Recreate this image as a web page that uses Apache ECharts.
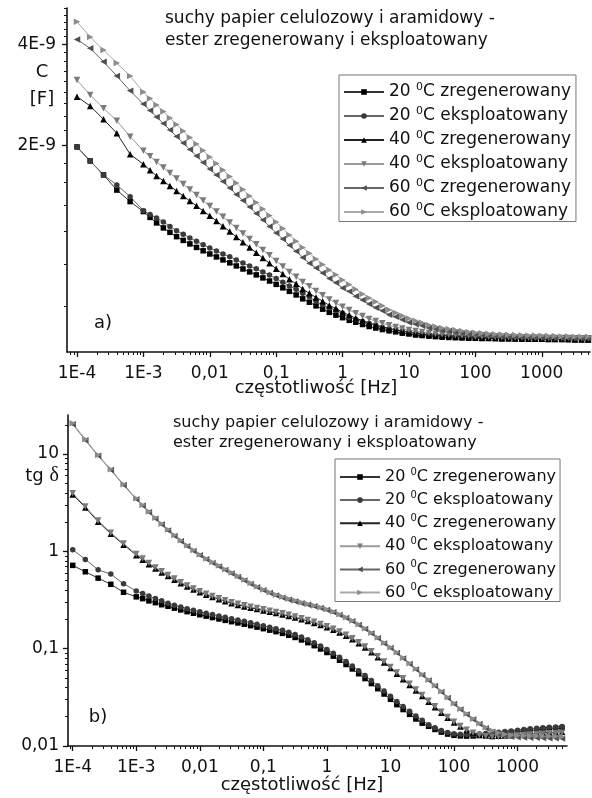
<!DOCTYPE html>
<html><head><meta charset="utf-8">
<script src="https://cdn.jsdelivr.net/npm/echarts@6/dist/echarts.min.js"></script>
<style>html,body{margin:0;padding:0;background:#fff}#c{width:592px;height:798px}</style>
</head><body><div id="c"></div>
<script>
// ---------------- DATA ----------------
const freqHz = [1e-4,1.58e-4,2.51e-4,3.98e-4,6.31e-4,
0.001,0.00126,0.00158,0.002,0.00251,0.00316,0.00398,0.00501,0.00631,0.00794,
0.01,0.0126,0.0158,0.02,0.0251,0.0316,0.0398,0.0501,0.0631,0.0794,
0.1,0.126,0.158,0.2,0.251,0.316,0.398,0.501,0.631,0.794,
1,1.26,1.58,2,2.51,3.16,3.98,5.01,6.31,7.94,
10,12.6,15.8,20,25.1,31.6,39.8,50.1,63.1,79.4,
100,126,158,200,251,316,398,501,631,794,
1000,1260,1580,2000,2510,3160,3980,5010];

const seriesNames = ['20 °C zregenerowany','20 °C eksploatowany','40 °C zregenerowany','40 °C eksploatowany','60 °C zregenerowany','60 °C eksploatowany'];

// Capacitance C, in units of 1E-9 F
const cap20z = [1.984,1.802,1.638,1.477,1.365,
1.275,1.225,1.180,1.140,1.106,1.074,1.047,1.022,0.998,0.975,
0.954,0.935,0.916,0.898,0.879,0.861,0.844,0.827,0.810,0.793,
0.775,0.757,0.739,0.721,0.702,0.686,0.669,0.654,0.640,0.628,
0.617,0.606,0.598,0.589,0.581,0.575,0.569,0.564,0.560,0.555,
0.552,0.548,0.546,0.544,0.542,0.540,0.539,0.538,0.537,0.536,
0.536,0.535,0.535,0.535,0.534,0.534,0.534,0.533,0.533,0.533,
0.533,0.532,0.532,0.532,0.531,0.531,0.531,0.530];
const cap20e = [1.984,1.802,1.638,1.530,1.412,
1.283,1.250,1.221,1.188,1.152,1.119,1.091,1.065,1.040,1.016,
0.994,0.974,0.954,0.936,0.916,0.897,0.879,0.862,0.844,0.826,
0.807,0.786,0.767,0.749,0.729,0.712,0.690,0.674,0.660,0.648,
0.636,0.619,0.610,0.601,0.593,0.587,0.577,0.572,0.568,0.563,
0.560,0.554,0.552,0.550,0.548,0.546,0.545,0.544,0.543,0.542,
0.542,0.541,0.541,0.541,0.540,0.540,0.540,0.540,0.539,0.539,
0.539,0.539,0.538,0.538,0.537,0.537,0.537,0.536];
const cap40z = [2.797,2.625,2.396,2.178,1.887,
1.762,1.691,1.627,1.572,1.519,1.468,1.419,1.370,1.326,1.280,
1.238,1.196,1.153,1.113,1.072,1.033,0.997,0.962,0.928,0.895,
0.862,0.832,0.802,0.778,0.751,0.729,0.709,0.691,0.671,0.657,
0.640,0.628,0.615,0.605,0.595,0.587,0.580,0.574,0.567,0.563,
0.557,0.555,0.552,0.548,0.547,0.545,0.545,0.543,0.542,0.541,
0.539,0.539,0.538,0.537,0.536,0.536,0.535,0.535,0.534,0.534,
0.534,0.533,0.533,0.533,0.533,0.532,0.532,0.532];
const cap40e = [3.134,2.830,2.584,2.373,2.128,
1.933,1.861,1.790,1.724,1.660,1.599,1.540,1.482,1.429,1.375,
1.325,1.276,1.230,1.184,1.140,1.098,1.057,1.019,0.980,0.945,
0.910,0.876,0.844,0.816,0.788,0.765,0.741,0.720,0.699,0.682,
0.665,0.650,0.636,0.624,0.612,0.603,0.594,0.586,0.579,0.573,
0.567,0.563,0.560,0.556,0.553,0.551,0.549,0.547,0.546,0.545,
0.543,0.543,0.542,0.541,0.540,0.540,0.539,0.539,0.538,0.538,
0.538,0.537,0.537,0.537,0.537,0.536,0.536,0.536];
const cap60z = [4.139,3.893,3.553,3.222,2.913,
2.661,2.544,2.435,2.329,2.227,2.131,2.038,1.949,1.865,1.783,
1.706,1.638,1.566,1.498,1.434,1.375,1.316,1.259,1.204,1.152,
1.102,1.057,1.012,0.972,0.932,0.896,0.867,0.838,0.807,0.783,
0.756,0.738,0.714,0.697,0.678,0.660,0.647,0.630,0.621,0.608,
0.597,0.590,0.584,0.575,0.571,0.565,0.563,0.559,0.555,0.554,
0.551,0.549,0.547,0.545,0.544,0.543,0.542,0.541,0.540,0.540,
0.539,0.538,0.538,0.537,0.537,0.536,0.536,0.536];
const cap60e = [4.670,4.206,3.847,3.522,3.222,
2.888,2.762,2.643,2.528,2.418,2.313,2.212,2.116,2.024,1.936,
1.852,1.772,1.694,1.621,1.551,1.482,1.419,1.357,1.298,1.242,
1.188,1.136,1.087,1.041,0.998,0.959,0.922,0.888,0.855,0.827,
0.799,0.774,0.749,0.726,0.706,0.688,0.669,0.652,0.638,0.625,
0.614,0.604,0.596,0.587,0.581,0.575,0.571,0.567,0.563,0.560,
0.557,0.555,0.553,0.551,0.550,0.549,0.548,0.547,0.546,0.546,
0.545,0.544,0.544,0.543,0.543,0.542,0.542,0.542];

// Loss factor tg delta
const tg20z = [0.718,0.617,0.531,0.459,0.380,
0.341,0.327,0.310,0.297,0.283,0.2730,0.2610,0.2502,0.2402,0.2312,
0.2232,0.2160,0.2089,0.2021,0.1954,0.1895,0.1838,0.1783,0.1725,0.1664,
0.1606,0.1550,0.1496,0.1437,0.1373,0.1304,0.1229,0.1153,0.1074,0.0993,
0.0914,0.0838,0.0761,0.0688,0.0619,0.0553,0.0493,0.0438,0.0388,0.0342,
0.0302,0.0266,0.02369,0.02114,0.01895,0.01716,0.01594,0.01479,0.01390,0.01326,
0.01288,0.01271,0.01264,0.01267,0.01279,0.01294,0.01313,0.01332,0.01354,0.01377,
0.01400,0.01424,0.01444,0.01464,0.01482,0.01499,0.01514,0.01529];
const tg20e = [1.039,0.827,0.647,0.584,0.464,
0.392,0.368,0.348,0.327,0.311,0.2931,0.2802,0.2686,0.2579,0.2483,
0.2397,0.2319,0.2243,0.2170,0.2098,0.2035,0.1973,0.1914,0.1852,0.1786,
0.1724,0.1664,0.1606,0.1543,0.1475,0.1400,0.1319,0.1238,0.1153,0.1066,
0.0981,0.0899,0.0818,0.0739,0.0664,0.0594,0.0530,0.0470,0.0417,0.0367,
0.0324,0.0286,0.02544,0.02269,0.02035,0.01842,0.01656,0.01536,0.01444,0.01377,
0.01338,0.01320,0.01313,0.01316,0.01329,0.01344,0.01364,0.01384,0.01406,0.01430,
0.01454,0.01479,0.01500,0.01520,0.01539,0.01557,0.01572,0.01588];
const tg40z = [3.85,2.82,2.02,1.515,1.173,
0.915,0.822,0.739,0.667,0.607,0.557,0.512,0.471,0.436,0.406,
0.3806,0.3587,0.3397,0.3224,0.3076,0.2934,0.2818,0.2720,0.2632,0.2552,
0.2474,0.2399,0.2325,0.2249,0.2170,0.2090,0.2009,0.1925,0.1840,0.1750,
0.1661,0.1566,0.1465,0.1358,0.1250,0.1138,0.1027,0.0919,0.0816,0.0720,
0.0632,0.0554,0.0485,0.0424,0.0371,0.0326,0.0285,0.0250,0.02200,0.01950,
0.01745,0.01585,0.01460,0.01370,0.01310,0.01280,0.01270,0.01272,0.01280,0.01292,
0.01306,0.01320,0.01336,0.01352,0.01365,0.01378,0.01388,0.01398];
const tg40e = [3.951,2.890,2.075,1.554,1.203,
0.938,0.843,0.758,0.684,0.623,0.571,0.525,0.483,0.447,0.416,
0.3904,0.3679,0.3484,0.3307,0.3155,0.3009,0.2890,0.2790,0.2699,0.2617,
0.2537,0.2460,0.2385,0.2307,0.2226,0.2144,0.2060,0.1974,0.1887,0.1795,
0.1704,0.1606,0.1503,0.1393,0.1282,0.1167,0.1053,0.0943,0.0837,0.0738,
0.0648,0.0568,0.0497,0.0435,0.0381,0.0334,0.0292,0.0256,0.02248,0.01988,
0.01774,0.01602,0.01468,0.01367,0.01298,0.01259,0.01244,0.01244,0.01253,0.01265,
0.01280,0.01295,0.01310,0.01326,0.01338,0.01351,0.01361,0.01370];
const tg60z = [20.3,13.9,9.6,6.85,4.80,
3.44,2.94,2.52,2.17,1.885,1.643,1.442,1.272,1.130,1.010,
0.912,0.830,0.760,0.700,0.644,0.593,0.546,0.503,0.463,0.427,
0.398,0.373,0.352,0.334,0.3185,0.3058,0.2935,0.2826,0.2727,0.2620,
0.2498,0.2365,0.2219,0.2067,0.1911,0.1751,0.1593,0.1432,0.1277,0.1130,
0.1015,0.0902,0.0792,0.0695,0.0610,0.0536,0.0470,0.0413,0.0358,0.0311,
0.0270,0.0237,0.0211,0.01872,0.01680,0.01525,0.01405,0.01330,0.01280,0.01246,
0.01232,0.01224,0.01217,0.01212,0.01205,0.01203,0.01198,0.01194];
const tg60e = [20.75,14.20,9.79,6.98,4.89,
3.51,2.995,2.568,2.217,1.923,1.676,1.471,1.298,1.153,1.031,
0.931,0.847,0.776,0.714,0.657,0.605,0.557,0.513,0.472,0.436,
0.406,0.381,0.359,0.341,0.325,0.312,0.2995,0.2884,0.2783,0.2673,
0.2549,0.2413,0.2264,0.2109,0.1950,0.1787,0.1625,0.1461,0.1303,0.1153,
0.1036,0.0920,0.0808,0.0709,0.0622,0.0547,0.0480,0.0421,0.0365,0.0317,
0.0275,0.0241,0.02145,0.01905,0.01713,0.01558,0.01440,0.01367,0.01319,0.01288,
0.01279,0.01273,0.01267,0.01264,0.01258,0.01258,0.01252,0.01249];

// tick labels
const freqTickValues = [1e-4,1e-3,0.01,0.1,1,10,100,1000];
const freqTickLabels = ['1E-4','1E-3','0,01','0,1','1','10','100','1000'];
const capTickValues = [2,4];
const capTickLabels = ['2E-9','4E-9'];
const tgTickValues = [0.01,0.1,1,10];
const tgTickLabels = ['0,01','0,1','1','10'];

// ---------------- CHART ----------------
const FONT = 'DejaVu Sans';
const INK = '#111';
const capSeries = [cap20z,cap20e,cap40z,cap40e,cap60z,cap60e];
const tgSeries = [tg20z,tg20e,tg40z,tg40e,tg60z,tg60e];
const styles = [
  {symbol:'rect', size:5.5, rot:0, mark:'#000', line:'#333'},
  {symbol:'circle', size:5.5, rot:0, mark:'#3a3a3a', line:'#666'},
  {symbol:'triangle', size:6.5, rot:0, mark:'#000', line:'#222'},
  {symbol:'triangle', size:6.5, rot:180, mark:'#7a7a7a', line:'#9a9a9a'},
  {symbol:'triangle', size:6.5, rot:90, mark:'#505050', line:'#666'},
  {symbol:'triangle', size:6.5, rot:-90, mark:'#8c8c8c', line:'#aaa'}
];

function lookup(values, labels) {
  return function (v) {
    let best = 0, bd = Infinity;
    values.forEach((t, i) => { const d = Math.abs(Math.log10(t) - Math.log10(v)); if (d < bd) { bd = d; best = i; } });
    return labels[best];
  };
}
function logMinor(lo, hi) {
  const out = [];
  for (let e = -6; e <= 4; e++) for (let m = 2; m <= 9; m++) { const v = m * Math.pow(10, e); if (v > lo && v < hi) out.push(v); }
  return out;
}
function capMinor(lo, hi) {
  const out = [];
  for (let k = 1; k <= 30; k++) { if (k % 9 === 0) continue; const v = k * 2 / 9; if (v > lo && v < hi) out.push(v); }
  return out;
}

const X1 = [7.07e-5, 5330], X2 = [8.43e-5, 6000];
const Y1 = [0.488, 5.13], Y2 = [0.01, 25.2];

function mainAxis(grid, pos, ext, ticks, labels, margin) {
  return {type:'log', gridIndex:grid, position:pos, min:ext[0], max:ext[1],
    axisLine:{show:true, onZero:false, lineStyle:{color:INK, width:1.6}},
    axisTick:{show:true, length:5, customValues:ticks, lineStyle:{color:INK, width:1.3}},
    axisLabel:{show:true, customValues:ticks, formatter:lookup(ticks, labels), fontSize:17, fontFamily:FONT, color:INK, margin:margin},
    splitLine:{show:false}, minorTick:{show:false}, minorSplitLine:{show:false}};
}
function minorAxis(grid, pos, ext, ticks) {
  return {type:'log', gridIndex:grid, position:pos, min:ext[0], max:ext[1],
    axisLine:{show:false}, axisTick:{show:true, length:3, customValues:ticks, lineStyle:{color:INK, width:1}},
    axisLabel:{show:false}, splitLine:{show:false}};
}

const series = [];
[[capSeries,0],[tgSeries,2]].forEach(([set, ai]) => {
  set.forEach((vals, i) => {
    const s = styles[i];
    series.push({type:'line', name:seriesNames[i], xAxisIndex:ai, yAxisIndex:ai,
      data: freqHz.map((f, j) => [f, vals[j]]),
      symbol:s.symbol, symbolSize:s.size, symbolRotate:s.rot, showSymbol:true,
      lineStyle:{color:s.line, width:1}, itemStyle:{color:s.mark, borderWidth:0},
      emphasis:{disabled:true}, z:2});
  });
});

function legendFmt(name) {
  const p = name.split(' °C ');
  return '{t|' + p[0] + ' }{s|0}{t|C ' + p[1] + '}';
}
function legend(left, top, fs, gap, pad) {
  return {orient:'vertical', left:left, top:top, data:seriesNames, align:'left',
    itemWidth:40, itemHeight:7, itemGap:gap, padding:pad,
    borderColor:'#777', borderWidth:1, backgroundColor:'#fff', selectedMode:false,
    formatter:legendFmt,
    textStyle:{color:INK, fontFamily:FONT, fontSize:fs, rich:{
      t:{fontSize:fs, fontFamily:FONT, color:INK, lineHeight:20},
      s:{fontSize:Math.round(fs*0.65), fontFamily:FONT, color:INK, lineHeight:11, verticalAlign:'top'}}}};
}

const txt = (x, y, text, fs, extra) => ({type:'text', x:x, y:y, z:10,
  style:Object.assign({text:text, fontSize:fs, fontFamily:FONT, fill:INK}, extra || {})});

const option = {
  animation:false,
  backgroundColor:'#fff',
  textStyle:{fontFamily:FONT},
  grid:[{left:67, top:8, width:523, height:344}, {left:68, top:415, width:499, height:331}],
  xAxis:[mainAxis(0,'bottom',X1,freqTickValues,freqTickLabels,13), minorAxis(0,'bottom',X1,logMinor(X1[0],X1[1])),
         mainAxis(1,'bottom',X2,freqTickValues,freqTickLabels,13), minorAxis(1,'bottom',X2,logMinor(X2[0],X2[1]))],
  yAxis:[mainAxis(0,'left',Y1,capTickValues,capTickLabels,11), minorAxis(0,'left',Y1,capMinor(Y1[0],Y1[1])),
         mainAxis(1,'left',Y2,tgTickValues,tgTickLabels,9), minorAxis(1,'left',Y2,logMinor(Y2[0],Y2[1]))],
  legend:[legend(339,75,17,5.5,[7,5,1,4]), legend(335,459,16,5.1,[8,4,1,4])],
  series:series,
  graphic:[
    txt(165,8,'suchy papier celulozowy i aramidowy -\nester zregenerowany i eksploatowany',17,{lineHeight:22}),
    txt(173,413,'suchy papier celulozowy i aramidowy -\nester zregenerowany i eksploatowany',16,{lineHeight:20}),
    txt(42,72,'C',18,{align:'center', verticalAlign:'middle'}),
    txt(42,99,'[F]',18,{align:'center', verticalAlign:'middle'}),
    txt(42,476,'{a|tg }{d|δ}',18,{align:'center', verticalAlign:'middle',
      rich:{a:{fontSize:18, fontFamily:FONT, fill:INK}, d:{fontSize:20, fontFamily:'Liberation Serif', fill:INK}}}),
    txt(103,323,'a)',18,{align:'center', verticalAlign:'middle'}),
    txt(98,717,'b)',18,{align:'center', verticalAlign:'middle'}),
    txt(316,388,'częstotliwość [Hz]',18,{align:'center', verticalAlign:'middle'}),
    txt(302,785,'częstotliwość [Hz]',18,{align:'center', verticalAlign:'middle'})
  ]
};
const chart = echarts.init(document.getElementById('c'), null, {renderer:'canvas'});
chart.setOption(option);
</script>
</body></html>
